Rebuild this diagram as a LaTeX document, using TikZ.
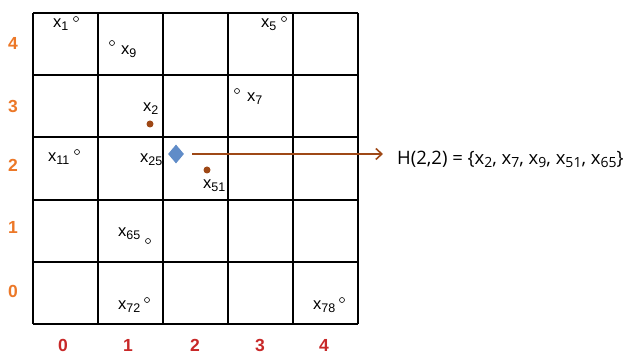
\documentclass[tikz,border=0pt]{standalone}
\usepackage{fontspec}
\setmainfont{Liberation Sans}
\newfontfamily\hfont{Open Sans}
\usetikzlibrary{shapes.geometric,arrows.meta}
\definecolor{brownc}{RGB}{158,72,22}
\definecolor{bluec}{RGB}{96,140,200}
\definecolor{orangec}{RGB}{236,120,40}
\definecolor{redc}{RGB}{200,40,40}
\newcommand\sbs[1]{\raisebox{-0.32ex}{\fontsize{12.5}{13}\selectfont #1}}
\newcommand\hsb[1]{\raisebox{-0.3ex}{\fontsize{14}{14}\selectfont #1}}
\tikzset{
  lbl/.style={anchor=base west,inner sep=0pt,font=\fontsize{16.5}{18}\selectfont},
  hollow/.style={circle,draw=black,line width=0.6pt,fill=white,minimum size=5pt,inner sep=0pt},
  dotb/.style={circle,fill=brownc,minimum size=7pt,inner sep=0pt},
  rowlbl/.style={text=orangec,font=\fontsize{17.5}{18}\selectfont\bfseries,inner sep=0pt},
  collbl/.style={text=redc,font=\fontsize{17.5}{18}\selectfont\bfseries,inner sep=0pt},
  gridline/.style={line width=1.8pt,black},
}
\begin{document}
\begin{tikzpicture}[x=1pt,y=-1pt]
\useasboundingbox (0,0) rectangle (625,355);
% grid
\foreach \xx in {33,98,163,228,293,358} \draw[gridline] (\xx,13) -- (\xx,324);
\foreach \yy in {13,75,137,200,262,324} \draw[gridline] (33,\yy) -- (358,\yy);
% row labels
\node[rowlbl] (r4) at (13,43) {4};
\node[rowlbl] (r3) at (13,106) {3};
\node[rowlbl] (r2) at (13,165) {2};
\node[rowlbl] (r1) at (13,227) {1};
\node[rowlbl] (r0) at (13,291) {0};
% column labels
\node[collbl] (c0) at (63,345) {0};
\node[collbl] (c1) at (128,345) {1};
\node[collbl] (c2) at (195,345) {2};
\node[collbl] (c3) at (260,345) {3};
\node[collbl] (c4) at (324,345) {4};
% points
\node[lbl] (l1) at (53,28) {x\sbs{1}};
\node[hollow] (p1) at (76,19) {};
\node[lbl] (l9) at (121,55) {x\sbs{9}};
\node[hollow] (p9) at (112,43) {};
\node[lbl] (l2) at (143,112) {x\sbs{2}};
\node[dotb] (p2) at (150,124) {};
\node[lbl] (l5) at (261,28) {x\sbs{5}};
\node[hollow] (p5) at (284,19) {};
\node[lbl] (l7) at (247,102) {x\sbs{7}};
\node[hollow] (p7) at (237,91) {};
\node[lbl] (l11) at (48,162) {x\sbs{11}};
\node[hollow] (p11) at (77,152) {};
\node[lbl] (l25) at (140,163) {x\sbs{25}};
\node[diamond,fill=bluec,minimum width=16pt,minimum height=19pt,inner sep=0pt] (dia) at (176,154) {};
\node[lbl] (l51) at (203,189) {x\sbs{51}};
\node[dotb] (p51) at (207,170) {};
\node[lbl] (l65) at (118,237) {x\sbs{65}};
\node[hollow] (p65) at (148,241) {};
\node[lbl] (l72) at (118,310) {x\sbs{72}};
\node[hollow] (p72) at (147,300) {};
\node[lbl] (l78) at (313,310) {x\sbs{78}};
\node[hollow] (p78) at (342,300) {};
% H text
\node[anchor=base west,inner sep=0pt,font=\hfont\fontsize{18.5}{20}\selectfont] (H) at (397,165)
  {H(2,2) = \{x\hsb{2}, x\hsb{7}, x\hsb{9}, x\hsb{51}, x\hsb{65}\}};
\draw[brownc,line width=1.6pt,-{Straight Barb[length=6pt,width=11pt]},shorten <=8pt]
  (dia.east) -- ([xshift=-14pt]H.west |- dia.east);
\end{tikzpicture}
\end{document}
